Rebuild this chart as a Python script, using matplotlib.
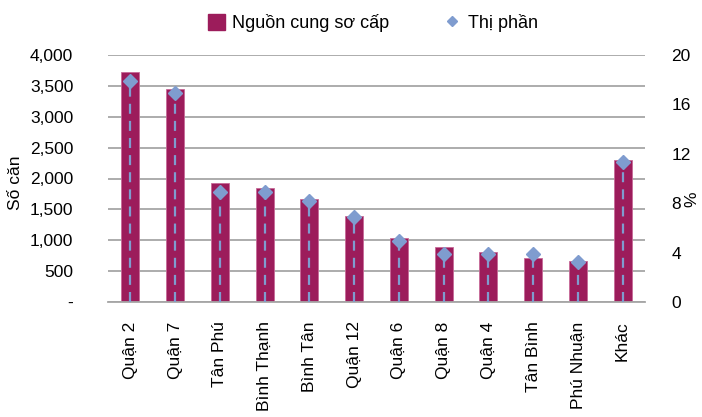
import matplotlib.pyplot as plt
from matplotlib.lines import Line2D
from matplotlib.patches import Patch

plt.rcParams['font.family'] = ['Liberation Sans', 'DejaVu Sans']

# Dữ liệu
khu_vuc = ['Quận 2', 'Quận 7', 'Tân Phú', 'Bình Thạnh', 'Bình Tân', 'Quận 12',
           'Quận 6', 'Quận 8', 'Quận 4', 'Tân Bình', 'Phú Nhuận', 'Khác']
nguon_cung = [3725, 3450, 1930, 1845, 1670, 1395, 1030, 885, 810, 710, 665, 2295]
thi_phan = [17.9, 16.9, 8.9, 8.9, 8.2, 6.9, 4.9, 3.9, 3.9, 3.9, 3.2, 11.3]

mau_cot = '#9C1C5B'
mau_diem = '#7F9CCF'
co_chu = 12.5

fig = plt.figure(figsize=(7.02, 4.17), dpi=100)
ax = fig.add_axes([108 / 702, 1 - 302 / 417, 537 / 702, 247 / 417])
ax2 = ax.twinx()

x = list(range(len(khu_vuc)))
ax.bar(x, nguon_cung, width=0.4, color=mau_cot, edgecolor='#C76A98', linewidth=0.6, zorder=2)

ax.set_ylim(0, 4000)
ax.set_xlim(-0.5, len(khu_vuc) - 0.5)
ax.set_yticks(range(0, 4001, 500))
ax.set_yticklabels(['-'] + [f'{v:,}' for v in range(500, 4001, 500)])
ax.yaxis.grid(True, color='#A6A6A6', linewidth=1.3)
ax.set_axisbelow(True)
ax.set_xticks(x)
ax.set_xticklabels(khu_vuc, rotation=90)
ax.tick_params(axis='x', length=0, pad=14, labelsize=co_chu)
ax.tick_params(axis='y', length=0, pad=25, labelsize=co_chu)
for s in ['top', 'left', 'right']:
    ax.spines[s].set_visible(False)
ax.spines['bottom'].set_color('#A6A6A6')
ax.spines['bottom'].set_linewidth(1.3)

# Thị phần: điểm hình thoi với đường gióng đứt nét
ax2.set_ylim(0, 20)
ax2.vlines(x, 0, thi_phan, colors=mau_diem, linestyles=(0, (4.5, 3.2)), linewidth=1.6, zorder=3)
ax2.plot(x, thi_phan, linestyle='none', marker='D', markersize=7, color=mau_diem, zorder=4)
ax2.set_yticks(range(0, 21, 4))
ax2.tick_params(axis='y', length=0, pad=19, labelsize=co_chu)
for s in ax2.spines.values():
    s.set_visible(False)

fig.text(15 / 702, 1 - 183 / 417, 'Số căn', rotation=90, ha='center', va='center', fontsize=co_chu)
fig.text(692 / 702, 1 - 199 / 417, '%', rotation=90, ha='center', va='center', fontsize=co_chu)

handles = [Patch(color=mau_cot, label='Nguồn cung sơ cấp'),
           Line2D([], [], linestyle='none', marker='D', markersize=5, color=mau_diem, label='Thị phần')]
fig.legend(handles=handles, loc='center', bbox_to_anchor=(373 / 702, 1 - 23 / 417), ncol=2, frameon=False,
           fontsize=13, handlelength=0.95, handleheight=1.0, columnspacing=3.0, handletextpad=0.4,
           borderpad=0, borderaxespad=0)

fig.savefig('out.png', dpi=100)
